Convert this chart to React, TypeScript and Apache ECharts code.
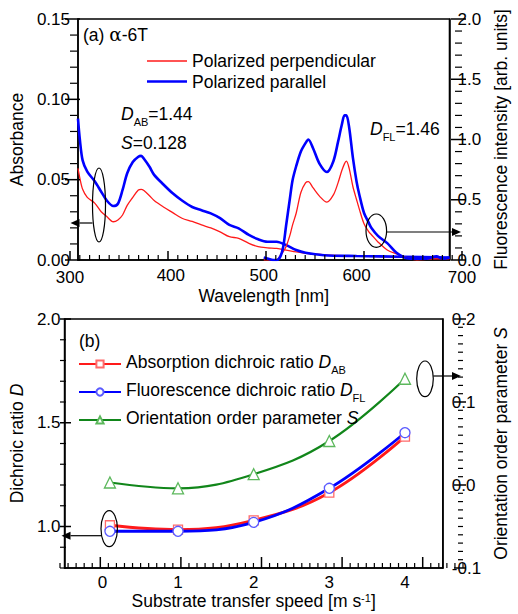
import React, { useEffect, useRef } from "react";
import * as echarts from "echarts";

const FONT = '"Liberation Sans", Arial, Helvetica, sans-serif';
const FS = 17.5;
const TFS = 17;

// ---- Panel (a): absorbance spectra ----
const absWl = [300, 302, 305, 310, 318, 325, 331, 338, 343, 348, 353, 359, 365, 368, 371, 377, 382, 392, 402, 412, 423, 433, 443, 453, 463, 473, 484, 494, 504, 514, 524, 535, 545, 565, 600, 650, 700];
const absPar = [0.088, 0.075, 0.062, 0.055, 0.049, 0.0425, 0.037, 0.0336, 0.035, 0.0436, 0.054, 0.061, 0.0643, 0.0648, 0.063, 0.058, 0.053, 0.047, 0.0415, 0.037, 0.033, 0.031, 0.029, 0.026, 0.0218, 0.0197, 0.0156, 0.0129, 0.0114, 0.0114, 0.0093, 0.0062, 0.0045, 0.003, 0.0025, 0.002, 0.0015];
const absPerp = [0.057, 0.051, 0.044, 0.039, 0.0354, 0.03, 0.027, 0.0238, 0.0249, 0.028, 0.034, 0.039, 0.0436, 0.044, 0.0432, 0.04, 0.037, 0.033, 0.0295, 0.026, 0.024, 0.0218, 0.02, 0.0175, 0.0145, 0.0135, 0.0104, 0.0083, 0.0076, 0.0072, 0.0062, 0.005, 0.0042, 0.0032, 0.0025, 0.0018, 0.001];

// ---- Panel (a): fluorescence spectra ----
const flWl = [500, 505, 510, 514, 518, 521, 524, 528, 531, 535, 540, 545, 548, 553, 560, 568, 575, 580, 584, 587, 589, 592, 596, 600, 603, 608, 613, 616, 623, 633, 643, 654, 665, 675, 686, 693, 700];
const flPar = [0.02, 0.01, 0.0, 0.0, 0.03, 0.11, 0.28, 0.5, 0.66, 0.78, 0.9, 0.97, 1.0, 0.93, 0.8, 0.73, 0.82, 0.98, 1.12, 1.2, 1.2, 1.1, 0.85, 0.65, 0.54, 0.39, 0.31, 0.265, 0.2, 0.14, 0.06, 0.015, 0.01, 0.01, 0.03, 0.01, 0.02];
const flPerp = [0.0, 0.0, 0.0, 0.0, 0.04, 0.07, 0.11, 0.2, 0.29, 0.39, 0.56, 0.64, 0.65, 0.6, 0.53, 0.48, 0.54, 0.64, 0.74, 0.8, 0.82, 0.76, 0.61, 0.5, 0.42, 0.3, 0.235, 0.21, 0.15, 0.083, 0.05, 0.02, 0.0, 0.005, 0.01, 0.01, 0.01];

// ---- Panel (b) ----
const speed = [0.1, 1, 2, 3, 4];
const dAB = [1.006, 0.985, 1.03, 1.163, 1.433];
const dFL = [0.977, 0.977, 1.02, 1.184, 1.452];
const orderS = [0.003, -0.004, 0.013, 0.053, 0.128];

// axis ranges, major / minor tick steps
const wlAxis = { min: 300, max: 700, major: 100, minor: 10 };
const absAxis = { min: 0, max: 0.15, major: 0.05, minor: 0.01 };
const flAxis = { min: 0, max: 2, major: 0.5, minor: 0.1 };
const speedAxis = { min: -0.5, max: 4.5, major: 1, minor: 0.1 };
const dAxis = { min: 0.8, max: 2.0, major: 0.5, minor: 0.1 };
const sAxis = { min: -0.1, max: 0.2, major: 0.1, minor: 0.01 };

// plot rectangles
const G0 = { left: 70, top: 19, width: 392, height: 241 };
const G1 = { left: 60, top: 319, width: 403, height: 249 };

const BLACK = "#000";
const RED = "#ff1a1a";
const BLUE = "#0000ff";
const GREEN = "#11861a";

const pairs = (xs: number[], ys: number[]) => xs.map((x, i) => [x, ys[i]]);
const isMult = (v: number, step: number) => Math.abs(v / step - Math.round(v / step)) < 1e-6;
const steps = (a: number, b: number, step: number) => {
  const out: number[] = [];
  const n = Math.round((b - a) / step);
  for (let i = 0; i <= n; i++) out.push(+(a + i * step).toFixed(6));
  return out;
};

const lbl = (margin: number, formatter?: any) => ({
  show: true, color: BLACK, fontSize: TFS, fontFamily: FONT, margin, formatter, hideOverlap: false,
});

const richBase = {
  n: { fontSize: FS, fontFamily: FONT, color: BLACK, padding: [0, 0, 4, 0], verticalAlign: "bottom" },
  i: { fontSize: FS, fontFamily: FONT, color: BLACK, fontStyle: "italic", padding: [0, 0, 4, 0], verticalAlign: "bottom" },
  s: { fontSize: 11, fontFamily: FONT, color: BLACK, verticalAlign: "bottom" },
  p: { fontSize: 11, fontFamily: FONT, color: BLACK, verticalAlign: "bottom", padding: [0, 0, 10, 0] },
  g: { fontSize: 18.5, fontFamily: '"DejaVu Serif", "Liberation Serif", serif', color: BLACK, padding: [0, 0, 4, 0], verticalAlign: "bottom" },
};
const nameStyle = { color: BLACK, fontSize: FS, fontFamily: FONT, rich: richBase };

const legendNames: Record<string, string> = {
  "Absorption dichroic ratio D_AB": "{n|Absorption dichroic ratio }{i|D}{s|AB}",
  "Fluorescence dichroic ratio D_FL": "{n|Fluorescence dichroic ratio }{i|D}{s|FL}",
  "Orientation order parameter S": "{n|Orientation order parameter }{i|S}",
};

// tick marks along a plot-rectangle edge
const makeTicks = (g: any, side: string, ax: any, majIn: number, majOut: number, minIn: number) => {
  const out: any[] = [];
  for (const v of steps(ax.min, ax.max, ax.minor)) {
    const major = isMult(v, ax.major);
    const inLen = major ? majIn : minIn;
    const outLen = major ? majOut : 0;
    const f = (v - ax.min) / (ax.max - ax.min);
    let shape;
    if (side === "bottom") {
      const x = g.left + f * g.width;
      const y = g.top + g.height;
      shape = { x1: x, y1: y + outLen, x2: x, y2: y - inLen };
    } else {
      const y = g.top + g.height - f * g.height;
      const x = side === "left" ? g.left : g.left + g.width;
      const d = side === "left" ? 1 : -1;
      shape = { x1: x - d * outLen, y1: y, x2: x + d * inLen, y2: y };
    }
    out.push({ type: "line", shape, style: { stroke: BLACK, lineWidth: major ? 1.5 : 1.2 }, z: 90 });
  }
  return out;
};

export default function App() {
  const ref = useRef<HTMLDivElement>(null);
  useEffect(() => {
    if (!ref.current) return;
    const chart = echarts.init(ref.current, null, { renderer: "svg" });
    const ell = (cx: number, cy: number, rx: number, ry: number) => ({
      type: "ellipse",
      shape: { cx, cy, rx, ry },
      style: { fill: "none", stroke: BLACK, lineWidth: 1.2 },
      z: 100,
    });
    const arrow = (x1: number, x2: number, y: number) => {
      const dir = x2 > x1 ? 1 : -1;
      const hx = x2 - dir * 9;
      return [
        { type: "line", shape: { x1, y1: y, x2: hx, y2: y }, style: { stroke: BLACK, lineWidth: 1.2 }, z: 100 },
        { type: "polygon", shape: { points: [[x2, y], [hx, y - 4], [hx, y + 4]] }, style: { fill: BLACK }, z: 100 },
      ];
    };
    const txt = (x: number, y: number, text: string) => ({
      type: "text",
      x,
      y,
      z: 100,
      style: { text, fontSize: FS, fontFamily: FONT, fill: BLACK, verticalAlign: "middle", rich: richBase },
    });
    const edgeLabel = (x: number, y: number, text: string) => ({
      type: "text",
      x,
      y,
      z: 100,
      style: { text, fontSize: TFS, fontFamily: FONT, fill: BLACK, align: "center", verticalAlign: "middle" },
    });
    const lineTop = { show: true, lineStyle: { color: BLACK, width: 1.5 } };
    const lineFixed = { show: true, onZero: false, lineStyle: { color: BLACK, width: 1.5 } };
    const noTick = { axisTick: { show: false }, minorTick: { show: false }, splitLine: { show: false } };

    const option: any = {
      animation: false,
      backgroundColor: "#fff",
      textStyle: { fontFamily: FONT },
      grid: [
        { ...G0, show: true, borderColor: BLACK, borderWidth: 1.5, backgroundColor: "transparent" },
        { ...G1, show: true, borderColor: BLACK, borderWidth: 1.5, backgroundColor: "transparent" },
      ],
      xAxis: [
        {
          type: "value", gridIndex: 0, min: wlAxis.min, max: wlAxis.max, interval: wlAxis.major,
          axisLine: lineTop, ...noTick,
          axisLabel: lbl(7, (v: number) => (v === wlAxis.min || v === wlAxis.max ? "" : String(v))),
          name: "Wavelength [nm]", nameLocation: "middle", nameGap: 27, nameTextStyle: nameStyle,
        },
        {
          type: "value", gridIndex: 1, min: speedAxis.min, max: speedAxis.max, interval: 0.5,
          axisLine: lineFixed, ...noTick,
          axisLabel: lbl(6, (v: number) => (Math.abs(v - Math.round(v)) < 1e-6 ? String(Math.round(v)) : "")),
          name: "{n|Substrate transfer speed [m s}{p|-1}{n|]}", nameLocation: "middle", nameGap: 21, nameTextStyle: nameStyle,
        },
      ],
      yAxis: [
        {
          type: "value", gridIndex: 0, position: "left", min: absAxis.min, max: absAxis.max, interval: absAxis.major,
          axisLine: lineTop, ...noTick,
          axisLabel: lbl(8, (v: number) => v.toFixed(2)),
          name: "Absorbance", nameLocation: "middle", nameGap: 41, nameTextStyle: nameStyle,
        },
        {
          type: "value", gridIndex: 0, position: "right", min: flAxis.min, max: flAxis.max, interval: flAxis.major,
          axisLine: lineTop, ...noTick,
          axisLabel: lbl(8, (v: number) => v.toFixed(1)),
          name: "Fluorescence intensity [arb. units]", nameLocation: "middle", nameGap: 41, nameTextStyle: nameStyle,
        },
        {
          type: "value", gridIndex: 1, position: "left", min: dAxis.min, max: dAxis.max, interval: 0.1,
          axisLine: lineFixed, ...noTick,
          axisLabel: lbl(4, (v: number) => (isMult(v, 0.5) && v > 0.95 ? v.toFixed(1) : "")),
          name: "{n|Dichroic ratio }{i|D}", nameLocation: "middle", nameGap: 31, nameTextStyle: nameStyle,
        },
        {
          type: "value", gridIndex: 1, position: "right", min: sAxis.min, max: sAxis.max, interval: sAxis.major,
          axisLine: lineFixed, ...noTick,
          axisLabel: lbl(9, (v: number) => (Math.abs(v) < 1e-9 ? "0.0" : v.toFixed(1))),
          name: "{n|Orientation order parameter }{i|S}", nameLocation: "middle", nameGap: 39, nameTextStyle: nameStyle,
        },
      ],
      legend: [
        {
          orient: "vertical", left: 147, top: 52, padding: 0, itemWidth: 40, itemHeight: 14, itemGap: 2.5,
          data: [
            { name: "Polarized perpendicular", icon: "path://M0,0h40v1.3h-40z" },
            { name: "Polarized parallel", icon: "path://M0,0h40v2.6h-40z" },
          ],
          textStyle: { color: BLACK, fontSize: FS, fontFamily: FONT },
        },
        {
          orient: "vertical", left: 78, top: 353, padding: 0, itemWidth: 42, itemHeight: 9, itemGap: 6,
          data: Object.keys(legendNames),
          formatter: (name: string) => legendNames[name] || name,
          textStyle: { color: BLACK, fontSize: FS, fontFamily: FONT, rich: richBase },
        },
      ],
      series: [
        {
          name: "Polarized perpendicular", type: "line", xAxisIndex: 0, yAxisIndex: 0, data: pairs(absWl, absPerp),
          symbol: "none", smooth: 0.3, lineStyle: { color: RED, width: 1.3 }, itemStyle: { color: RED },
        },
        {
          name: "Polarized parallel", type: "line", xAxisIndex: 0, yAxisIndex: 0, data: pairs(absWl, absPar),
          symbol: "none", smooth: 0.3, lineStyle: { color: BLUE, width: 2.6 }, itemStyle: { color: BLUE },
        },
        {
          name: "Polarized perpendicular", type: "line", xAxisIndex: 0, yAxisIndex: 1, data: pairs(flWl, flPerp),
          symbol: "none", smooth: 0.3, lineStyle: { color: RED, width: 1.3 }, itemStyle: { color: RED },
        },
        {
          name: "Polarized parallel", type: "line", xAxisIndex: 0, yAxisIndex: 1, data: pairs(flWl, flPar),
          symbol: "none", smooth: 0.3, lineStyle: { color: BLUE, width: 2.6 }, itemStyle: { color: BLUE },
        },
        {
          name: "Absorption dichroic ratio D_AB", type: "line", xAxisIndex: 1, yAxisIndex: 2, data: pairs(speed, dAB),
          smooth: 0.4, symbol: "rect", symbolSize: 9, showSymbol: true,
          lineStyle: { color: RED, width: 2.8 }, itemStyle: { color: "#fff", borderColor: "#ff6a6a", borderWidth: 1.3 },
        },
        {
          name: "Fluorescence dichroic ratio D_FL", type: "line", xAxisIndex: 1, yAxisIndex: 2, data: pairs(speed, dFL),
          smooth: 0.4, symbol: "circle", symbolSize: 10, showSymbol: true,
          lineStyle: { color: BLUE, width: 2.8 }, itemStyle: { color: "#fff", borderColor: "#5a5aff", borderWidth: 1.3 },
        },
        {
          name: "Orientation order parameter S", type: "line", xAxisIndex: 1, yAxisIndex: 3, data: pairs(speed, orderS),
          smooth: 0.4, symbol: "triangle", symbolSize: 11, showSymbol: true,
          lineStyle: { color: GREEN, width: 2.2 }, itemStyle: { color: "#fff", borderColor: "#5cb85c", borderWidth: 1.3 },
        },
      ],
      graphic: [
        edgeLabel(G0.left, G0.top + G0.height + 17, String(wlAxis.min)),
        edgeLabel(G0.left + G0.width, G0.top + G0.height + 17, String(wlAxis.max)),
        txt(83, 36, "{n|(a) }{g|α}{n|-6T}"),
        txt(121, 116, "{i|D}{s|AB}{n|=1.44}"),
        txt(121, 145, "{i|S}{n|=0.128}"),
        txt(370, 131, "{i|D}{s|FL}{n|=1.46}"),
        txt(79, 343, "{n|(b)}"),
        ell(99, 205, 6.5, 37),
        ...arrow(92.5, 70.5, 223),
        ell(376.3, 230.7, 10.3, 16.7),
        ...arrow(386.5, 461, 232),
        ell(109.2, 528.7, 8.2, 18),
        ...arrow(101, 61.5, 535.7),
        ell(425, 378.8, 8.3, 17.8),
        ...arrow(433.3, 461, 376),
        ...makeTicks(G0, "bottom", wlAxis, 9, 0, 5),
        ...makeTicks(G0, "left", absAxis, 10, 5, 7),
        ...makeTicks(G0, "right", flAxis, 11, 4, 7),
        ...makeTicks(G1, "bottom", speedAxis, 11, 0, 5),
        ...makeTicks(G1, "left", dAxis, 11, 0, 6),
        ...makeTicks(G1, "right", sAxis, 9, 3, 5),
      ],
    };
    chart.setOption(option);
    return () => chart.dispose();
  }, []);
  return <div ref={ref} style={{ position: "fixed", left: 0, top: 0, width: 518, height: 614 }} />;
}
